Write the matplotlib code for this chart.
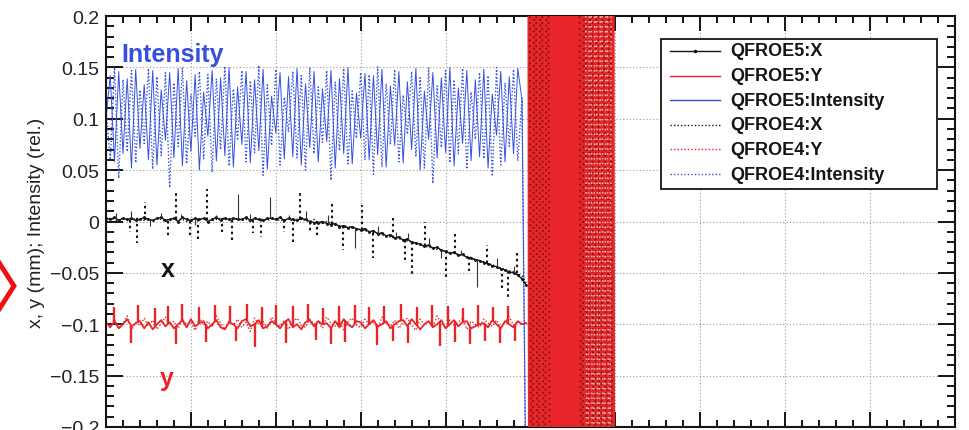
import numpy as np
import matplotlib
matplotlib.use("Agg")
import matplotlib.pyplot as plt
from matplotlib.lines import Line2D
from matplotlib.patches import Rectangle
from matplotlib.ticker import FixedLocator, MultipleLocator

plt.rcParams['font.family'] = ['Liberation Sans', 'DejaVu Sans']

# ---- data -------------------------------------------------------------
T_START, T_END = 0.0, 4.95          # time span of the orbit record
BAND_START, BAND_END = 4.97, 5.99   # span where the readback goes wild

# slow readback of each channel, sampled evenly over the record
X5 = [0.003, 0.002, 0.004, 0.001, 0.003, 0.002, 0.003, 0.001, 0.002, 0.004,
      0.002, 0.001, 0.003, 0.004, 0.001, 0.002, 0.003, 0.000, 0.004, 0.002,
      0.001, 0.003, 0.002, 0.003, 0.000, 0.002, 0.004, 0.001, 0.003, 0.002,
      0.003, 0.002, 0.002, 0.004, 0.001, 0.003, 0.002, 0.001, 0.003, 0.003,
      0.002, 0.004, 0.001, 0.003, 0.002, 0.001, 0.003, 0.002, 0.000, -0.001,
      -0.001, 0.000, -0.002, -0.003, -0.002, -0.005, -0.004, -0.006, -0.005, -0.007,
      -0.008, -0.007, -0.010, -0.009, -0.012, -0.011, -0.014, -0.013, -0.016, -0.015,
      -0.018, -0.017, -0.020, -0.021, -0.022, -0.024, -0.023, -0.026, -0.025, -0.028,
      -0.029, -0.031, -0.030, -0.033, -0.032, -0.035, -0.036, -0.037, -0.038, -0.040,
      -0.041, -0.043, -0.044, -0.046, -0.047, -0.049, -0.050, -0.052, -0.056, -0.062]

X4 = [0.001, 0.003, 0.002, 0.000, 0.004, 0.001, 0.002, 0.003, 0.003, 0.001,
      0.002, 0.001, 0.003, 0.002, 0.000, 0.001, 0.003, 0.002, 0.002, 0.000,
      0.001, 0.003, 0.002, 0.003, 0.001, 0.001, 0.002, 0.003, 0.003, 0.001,
      0.002, 0.003, 0.001, 0.002, 0.000, 0.003, 0.002, 0.002, 0.001, 0.003,
      0.002, 0.001, 0.001, 0.003, 0.000, 0.002, 0.002, 0.001, 0.000, 0.002,
      -0.001, -0.002, 0.000, -0.002, -0.003, -0.004, -0.005, -0.005, -0.006, -0.007,
      -0.008, -0.009, -0.010, -0.011, -0.011, -0.013, -0.014, -0.015, -0.016, -0.017,
      -0.018, -0.019, -0.020, -0.022, -0.023, -0.024, -0.025, -0.026, -0.027, -0.028,
      -0.029, -0.030, -0.031, -0.032, -0.033, -0.034, -0.035, -0.037, -0.038, -0.039,
      -0.041, -0.042, -0.044, -0.045, -0.047, -0.048, -0.049, -0.051, -0.053, -0.060]

Y5 = [-0.098, -0.103, -0.097, -0.104, -0.100, -0.095, -0.102, -0.099, -0.097, -0.104,
      -0.098, -0.105, -0.100, -0.096, -0.102, -0.098, -0.104, -0.100, -0.096, -0.103,
      -0.095, -0.102, -0.099, -0.097, -0.104, -0.100, -0.096, -0.103, -0.105, -0.098,
      -0.100, -0.104, -0.097, -0.095, -0.102, -0.100, -0.096, -0.104, -0.102, -0.097,
      -0.100, -0.104, -0.098, -0.095, -0.103, -0.100, -0.105, -0.098, -0.096, -0.102,
      -0.097, -0.100, -0.099, -0.104, -0.097, -0.103, -0.095, -0.100, -0.103, -0.097,
      -0.098, -0.104, -0.100, -0.096, -0.102, -0.100, -0.097, -0.104, -0.100, -0.097,
      -0.096, -0.102, -0.095, -0.100, -0.105, -0.100, -0.097, -0.103, -0.100, -0.096,
      -0.104, -0.100, -0.096, -0.102, -0.098, -0.097, -0.104, -0.102, -0.100, -0.099,
      -0.103, -0.096, -0.100, -0.104, -0.097, -0.100, -0.103, -0.097, -0.100, -0.099]

Y4 = [-0.097, -0.103, -0.095, -0.104, -0.099, -0.092, -0.106, -0.098, -0.101, -0.094,
      -0.102, -0.096, -0.105, -0.099, -0.093, -0.101, -0.097, -0.104, -0.095, -0.100,
      -0.098, -0.106, -0.094, -0.101, -0.097, -0.103, -0.092, -0.099, -0.105, -0.096,
      -0.101, -0.095, -0.103, -0.098, -0.107, -0.094, -0.100, -0.097, -0.104, -0.093,
      -0.099, -0.102, -0.096, -0.105, -0.098, -0.094, -0.101, -0.103, -0.095, -0.100,
      -0.097, -0.104, -0.093, -0.099, -0.102, -0.096, -0.106, -0.098, -0.094, -0.101,
      -0.103, -0.095, -0.100, -0.097, -0.105, -0.093, -0.099, -0.102, -0.096, -0.104,
      -0.098, -0.094, -0.101, -0.106, -0.095, -0.100, -0.097, -0.103, -0.092, -0.099,
      -0.104, -0.096, -0.101, -0.098, -0.094, -0.105, -0.097, -0.100, -0.103, -0.095,
      -0.099, -0.102, -0.096, -0.104, -0.098, -0.093, -0.101, -0.097, -0.100, -0.098]

I5 = [0.100, 0.142, 0.058, 0.146, 0.066, 0.139, 0.052, 0.148, 0.071, 0.133,
      0.060, 0.147, 0.055, 0.128, 0.079, 0.145, 0.062, 0.149, 0.054, 0.137,
      0.068, 0.143, 0.050, 0.126, 0.083, 0.147, 0.059, 0.140, 0.064, 0.150,
      0.053, 0.131, 0.075, 0.146, 0.057, 0.138, 0.069, 0.148, 0.051, 0.122,
      0.086, 0.145, 0.061, 0.141, 0.063, 0.149, 0.055, 0.134, 0.072, 0.146,
      0.058, 0.129, 0.078, 0.147, 0.052, 0.139, 0.066, 0.150, 0.056, 0.125,
      0.081, 0.144, 0.060, 0.142, 0.065, 0.148, 0.053, 0.132, 0.074, 0.146,
      0.057, 0.136, 0.070, 0.149, 0.050, 0.127, 0.080, 0.145, 0.062, 0.140,
      0.067, 0.150, 0.054, 0.130, 0.076, 0.147, 0.059, 0.138, 0.063, 0.148,
      0.052, 0.124, 0.084, 0.146, 0.058, 0.141, 0.066, 0.149, 0.118, -0.300]

I4 = [0.110, 0.060, 0.150, 0.042, 0.138, 0.068, 0.147, 0.057, 0.128, 0.076,
      0.149, 0.051, 0.141, 0.064, 0.145, 0.033, 0.135, 0.073, 0.150, 0.056,
      0.124, 0.083, 0.146, 0.061, 0.143, 0.048, 0.139, 0.070, 0.151, 0.054,
      0.129, 0.079, 0.147, 0.058, 0.137, 0.067, 0.152, 0.045, 0.133, 0.074,
      0.148, 0.055, 0.121, 0.087, 0.146, 0.062, 0.142, 0.050, 0.150, 0.066,
      0.131, 0.077, 0.147, 0.040, 0.136, 0.069, 0.149, 0.056, 0.127, 0.081,
      0.145, 0.060, 0.143, 0.046, 0.151, 0.053, 0.134, 0.075, 0.148, 0.058,
      0.123, 0.085, 0.146, 0.063, 0.140, 0.052, 0.150, 0.037, 0.132, 0.072,
      0.147, 0.057, 0.138, 0.066, 0.149, 0.051, 0.126, 0.080, 0.145, 0.061,
      0.142, 0.044, 0.150, 0.055, 0.135, 0.073, 0.148, 0.059, 0.120, -0.300]

# single-sample glitches: (time, value reached)
X5_GLITCH_T = [0.12, 0.30, 0.52, 0.65, 0.88, 1.05, 1.30, 1.55, 1.70, 1.93, 2.15, 2.35,
               2.62, 2.93, 3.20, 3.42, 3.56, 3.80, 3.95, 4.18, 4.37, 4.60, 4.80]
X5_GLITCH_V = [0.008, 0.010, -0.004, 0.008, 0.007, -0.003, 0.006, 0.027, 0.007, 0.024,
               0.006, 0.010, 0.006, -0.026, -0.004, -0.010, -0.011, -0.016, -0.036,
               -0.028, -0.064, -0.036, -0.043]
X4_GLITCH_T = [0.28, 0.36, 0.46, 0.73, 0.83, 0.99, 1.08, 1.19, 1.37, 1.48, 1.73, 1.83,
               2.10, 2.20, 2.28, 2.40, 2.48, 2.66, 2.79, 3.01, 3.15, 3.38, 3.52, 3.60,
               3.76, 4.00, 4.11, 4.27, 4.49, 4.66, 4.74, 4.84]
X4_GLITCH_V = [-0.010, -0.021, 0.019, -0.016, 0.029, -0.016, -0.020, 0.032, -0.010,
               -0.020, -0.011, -0.015, -0.010, -0.020, 0.030, -0.009, -0.015, 0.020,
               -0.028, 0.016, -0.036, 0.003, -0.040, -0.052, 0.000, -0.057, -0.010,
               -0.048, -0.023, -0.065, -0.075, -0.030]
Y5_GLITCH_T = [0.10, 0.30, 0.38, 0.58, 0.73, 0.82, 0.90, 1.10, 1.18, 1.28, 1.46, 1.53,
               1.66, 1.76, 1.84, 2.00, 2.12, 2.20, 2.38, 2.47, 2.56, 2.65, 2.75, 2.82,
               2.93, 3.10, 3.19, 3.27, 3.38, 3.48, 3.56, 3.66, 3.84, 3.93, 4.03, 4.11,
               4.20, 4.29, 4.38, 4.46, 4.56, 4.64, 4.73, 4.82]
Y5_GLITCH_V = [-0.083, -0.118, -0.081, -0.084, -0.082, -0.119, -0.080, -0.083, -0.117,
               -0.081, -0.082, -0.116, -0.080, -0.122, -0.083, -0.081, -0.118, -0.082,
               -0.080, -0.115, -0.084, -0.119, -0.082, -0.117, -0.081, -0.083, -0.120,
               -0.082, -0.116, -0.080, -0.118, -0.083, -0.081, -0.121, -0.082, -0.117,
               -0.084, -0.119, -0.081, -0.116, -0.083, -0.118, -0.082, -0.116]

# readback after the loss: full-scale swings in both channels
BAND_Y5 = [0.6, -0.6, 0.6, -0.6, 0.6, -0.6, 0.6, -0.6, 0.6, -0.6,
           0.6, -0.6, 0.6, -0.6, 0.6, -0.6, 0.6, -0.6, 0.6, -0.6,
           0.6, -0.6, 0.6, -0.6, 0.6, -0.6, 0.6, -0.6, 0.6, -0.6,
           0.6, -0.6, 0.6, -0.6, 0.6, -0.6, 0.6, -0.6, 0.6, -0.6,
           0.6, -0.6, 0.6, -0.6, 0.6, -0.6, 0.6, -0.6, 0.6, -0.6,
           0.6, -0.6, 0.6, -0.6, 0.6, -0.6, 0.6, -0.6, 0.6, -0.6,
           0.6, -0.6, 0.6, -0.6, 0.6, -0.6, 0.6, -0.6, 0.6, -0.6]
BAND_X4 = [0.6, -0.6, 0.6, -0.6, 0.6, -0.6, 0.6, -0.6,
           np.nan, np.nan, np.nan, np.nan, 0.6, np.nan, np.nan, np.nan,
           0.6, -0.6, 0.6, -0.6, 0.6, -0.6, 0.6, -0.6, 0.6, -0.6, 0.6, -0.6]
BAND_Y4 = [0.6, -0.6, 0.6, -0.6, 0.6, -0.6, 0.6, -0.6, 0.6, -0.6, 0.6]

Y_TICKS = [0.2, 0.15, 0.1, 0.05, 0.0, -0.05, -0.1, -0.15, -0.2]
Y_TICK_LABELS = ["0.2", "0.15", "0.1", "0.05", "0", "\u22120.05", "\u22120.1", "\u22120.15", "\u22120.2"]

SERIES_NAMES = ["QFROE5:X", "QFROE5:Y", "QFROE5:Intensity",
                "QFROE4:X", "QFROE4:Y", "QFROE4:Intensity"]

# ---- styling ----------------------------------------------------------
BLACK = '#151515'
RED = '#e8262a'
BLUE = '#3550e0'
DOT = (0, (1, 1.5))
W, H = 970, 431

fig = plt.figure(figsize=(W / 100, H / 100), dpi=100)
ax = fig.add_axes([106 / W, 1 - 428 / H, (955 - 106) / W, (428 - 17) / H])
ax.set_xlim(0, 10)
ax.set_ylim(-0.2, 0.2)


def tgrid(values, t0, t1):
    return np.linspace(t0, t1, len(values))


def glitches(t_series, series, g_t, g_v, **kw):
    base = np.interp(g_t, t_series, series)
    ax.vlines(g_t, base, g_v, **kw)


tI4, tI5 = tgrid(I4, T_START, T_END), tgrid(I5, T_START, T_END)
tY4, tY5 = tgrid(Y4, T_START, T_END), tgrid(Y5, T_START, T_END)
tX4, tX5 = tgrid(X4, T_START, T_END), tgrid(X5, T_START, T_END)

ax.plot(tI4, I4, color=BLUE, lw=1.0, ls=DOT, zorder=2)
ax.plot(tI5, I5, color=BLUE, lw=0.7, zorder=2.1)

ax.plot(tY4, Y4, color=RED, lw=1.0, ls=DOT, zorder=2)
ax.plot(tY5, Y5, color=RED, lw=1.3, zorder=2.1)
glitches(tY5, Y5, Y5_GLITCH_T, Y5_GLITCH_V, color=RED, lw=1.7, zorder=2.1)

ax.plot(tX4, X4, color=BLACK, lw=1.0, ls=DOT, zorder=2.2)
glitches(tX4, X4, X4_GLITCH_T, X4_GLITCH_V, color=BLACK, lw=1.5,
         linestyles=[(0, (1.2, 1.6))], zorder=2.2)
ax.plot(tX5, X5, color=BLACK, lw=1.0, marker='.', ms=2.2, zorder=2.3)
glitches(tX5, X5, X5_GLITCH_T, X5_GLITCH_V, color='#333333', lw=0.8, zorder=2.3)

# wild readback region
ax.plot(tgrid(BAND_Y5, BAND_START, BAND_END), BAND_Y5, color=RED, lw=1.3, zorder=4)
ax.plot(tgrid(BAND_X4, BAND_START + 0.01, BAND_END - 0.02), BAND_X4, color='#4a0e08',
        lw=1.3, ls=(0, (1, 2.2)), alpha=0.7, zorder=4.1)
ax.plot(tgrid(BAND_Y4, 5.64, 5.96), BAND_Y4, color='#fff4ec',
        lw=1.1, ls=(1.6, (1, 2.2)), alpha=0.75, zorder=4.2)

# axes styling (ticks on all sides, pointing in)
ax.xaxis.set_major_locator(MultipleLocator(1))
ax.xaxis.set_minor_locator(MultipleLocator(0.2))
ax.yaxis.set_major_locator(FixedLocator(Y_TICKS))
ax.yaxis.set_minor_locator(MultipleLocator(0.01))
ax.set_yticklabels(Y_TICK_LABELS)
ax.tick_params(axis='both', which='both', direction='in', top=True, right=True,
               colors=BLACK, width=1.4)
ax.tick_params(axis='x', which='major', length=11, labelbottom=False)
ax.tick_params(axis='x', which='minor', length=5)
ax.tick_params(axis='y', which='major', length=12.5, labelsize=14, pad=5,
               labelcolor='#222222')
ax.tick_params(axis='y', which='minor', length=6)
for s in ax.spines.values():
    s.set_linewidth(1.5)
    s.set_color(BLACK)
ax.grid(True, which='major', color='#9a9a9a', lw=0.8, ls=(0, (1, 2)))

ax.set_ylabel("x, y (mm); Intensity (rel.)", fontsize=14, color='#222222')
ax.yaxis.set_label_coords(-(106 - 37) / (955 - 106), 0.5)
ax.yaxis.label.set_va('center')

# in-plot labels
ax.text(0.18, 0.1565, "Intensity", color=BLUE, fontsize=18, fontweight='bold',
        va='baseline', ha='left')
ax.text(0.64, -0.053, "x", color=BLACK, fontsize=18, fontweight='bold',
        va='baseline', ha='left')
ax.text(0.64, -0.159, "y", color=RED, fontsize=18, fontweight='bold',
        va='baseline', ha='left')


# legend box
def fx(px):
    return px / W


def fy(py):
    return 1 - py / H


fig.add_artist(Rectangle((fx(661), fy(190)), fx(937) - fx(661), fy(40) - fy(190),
                         transform=fig.transFigure, facecolor='white',
                         edgecolor=BLACK, lw=1.3, zorder=10))
styles = [(BLACK, '-', '.'), (RED, '-', None), (BLUE, '-', None),
          (BLACK, DOT, None), (RED, DOT, None), (BLUE, DOT, None)]
for k, (name, (c, ls, mk)) in enumerate(zip(SERIES_NAMES, styles)):
    yy = fy(52 + 24.6 * k)
    fig.add_artist(Line2D([fx(670), fx(720)], [yy, yy], color=c, ls=ls, lw=1.0,
                          transform=fig.transFigure, zorder=11))
    if mk:
        fig.add_artist(Line2D([fx(695)], [yy], color=c, marker=mk, ms=3,
                              transform=fig.transFigure, zorder=11))
    fig.text(fx(730), yy, name, fontsize=13, fontweight='bold', color=BLACK,
             va='center', ha='left', zorder=12)

# red chevron marker at the left margin
fig.add_artist(Line2D([fx(-2), fx(14), fx(-2)], [fy(262), fy(287), fy(312)],
                      color='#f01010', lw=3.5, solid_joinstyle='miter',
                      transform=fig.transFigure, zorder=10))

fig.savefig("out.png", dpi=100)
